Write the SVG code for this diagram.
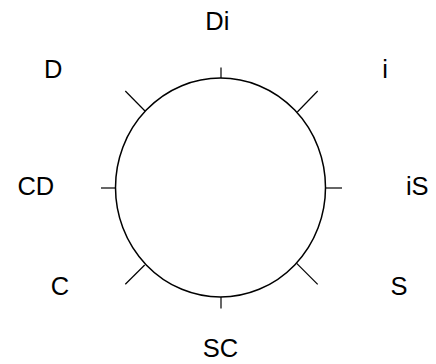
<svg xmlns="http://www.w3.org/2000/svg" width="436" height="364" viewBox="0 0 436 364">
<style>
.lbl{font-family:"Liberation Sans",Arial,sans-serif;font-size:25.5px;fill:#000;text-anchor:middle}
.ring{fill:#fff;stroke:#000;stroke-width:1.5}
.tick{stroke:#000;stroke-width:1.2;fill:none}
</style>
<rect width="436" height="364" fill="#fff"/>
<g id="ring"><ellipse class="ring" cx="220.5" cy="187.5" rx="105" ry="109.5"/></g>
<g id="ticks">
<line class="tick" x1="221" y1="67.5" x2="221" y2="78"/>
<line class="tick" x1="221" y1="297" x2="221" y2="308.5"/>
<line class="tick" x1="101" y1="188" x2="115.5" y2="188"/>
<line class="tick" x1="325.5" y1="188" x2="342" y2="188"/>
<line class="tick" x1="125.3" y1="91" x2="145" y2="111"/>
<line class="tick" x1="317.7" y1="91" x2="297.3" y2="112"/>
<line class="tick" x1="125.3" y1="284.3" x2="144.7" y2="265"/>
<line class="tick" x1="317.7" y1="284.3" x2="296.7" y2="263.3"/>
</g>
<g id="label-Di"><text class="lbl" x="217.3" y="29.5">Di</text></g>
<g id="label-D"><text class="lbl" x="53.3" y="77.5">D</text></g>
<g id="label-i"><text class="lbl" x="385" y="77.5">i</text></g>
<g id="label-CD"><text class="lbl" x="35.8" y="194.5">CD</text></g>
<g id="label-iS"><text class="lbl" x="417.3" y="194.5">iS</text></g>
<g id="label-C"><text class="lbl" x="60" y="294.5">C</text></g>
<g id="label-S"><text class="lbl" x="399" y="294.5">S</text></g>
<g id="label-SC"><text class="lbl" x="220.5" y="357">SC</text></g>
</svg>
